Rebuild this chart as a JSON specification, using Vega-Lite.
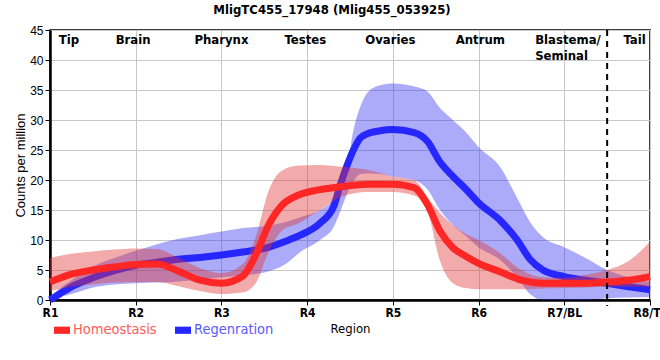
{
  "$schema": "https://vega.github.io/schema/vega-lite/v6.json",
  "width": 600,
  "height": 270,
  "autosize": {"type": "none"},
  "padding": {"left": 50, "top": 30, "right": 10, "bottom": 60},
  "background": "white",
  "title": {
    "text": "MligTC455_17948 (Mlig455_053925)",
    "font": "DejaVu Sans Condensed, Liberation Sans",
    "fontSize": 13,
    "fontWeight": "bold",
    "color": "black",
    "anchor": "middle",
    "dx": -18,
    "offset": 7
  },
  "config": {
    "view": {"stroke": "black", "strokeWidth": 1.5},
    "axis": {
      "gridColor": "#c8c8c8",
      "gridWidth": 1,
      "domainColor": "black",
      "domainWidth": 2.5,
      "tickColor": "black",
      "labelColor": "black",
      "titleColor": "black",
      "labelOverlap": false
    }
  },
  "datasets": {
    "curves": [
      {"series": "Homeostasis", "x": 1.0, "y": 3.0, "lo": 1.5, "hi": 7.0},
      {"series": "Homeostasis", "x": 1.25, "y": 4.3, "lo": 2.2, "hi": 7.7},
      {"series": "Homeostasis", "x": 1.5, "y": 5.0, "lo": 2.6, "hi": 8.1},
      {"series": "Homeostasis", "x": 1.75, "y": 5.5, "lo": 2.9, "hi": 8.4},
      {"series": "Homeostasis", "x": 2.0, "y": 5.9, "lo": 3.0, "hi": 8.6},
      {"series": "Homeostasis", "x": 2.25, "y": 6.0, "lo": 3.0, "hi": 8.5},
      {"series": "Homeostasis", "x": 2.5, "y": 4.8, "lo": 2.3, "hi": 7.0},
      {"series": "Homeostasis", "x": 2.75, "y": 3.3, "lo": 1.5, "hi": 5.3},
      {"series": "Homeostasis", "x": 3.0, "y": 2.8, "lo": 1.0, "hi": 4.5},
      {"series": "Homeostasis", "x": 3.25, "y": 4.0, "lo": 1.3, "hi": 6.0},
      {"series": "Homeostasis", "x": 3.4, "y": 7.5, "lo": 2.8, "hi": 10.5},
      {"series": "Homeostasis", "x": 3.55, "y": 12.5, "lo": 8.0, "hi": 18.2},
      {"series": "Homeostasis", "x": 3.7, "y": 15.7, "lo": 11.5, "hi": 21.5},
      {"series": "Homeostasis", "x": 3.9, "y": 17.5, "lo": 12.8, "hi": 22.4},
      {"series": "Homeostasis", "x": 4.15, "y": 18.4, "lo": 15.0, "hi": 22.5},
      {"series": "Homeostasis", "x": 4.4, "y": 18.9, "lo": 17.2, "hi": 22.2},
      {"series": "Homeostasis", "x": 4.7, "y": 19.3, "lo": 18.0, "hi": 21.7},
      {"series": "Homeostasis", "x": 5.0, "y": 19.3, "lo": 18.0, "hi": 20.6},
      {"series": "Homeostasis", "x": 5.25, "y": 18.7, "lo": 17.4, "hi": 20.0},
      {"series": "Homeostasis", "x": 5.4, "y": 16.0, "lo": 15.0, "hi": 17.2},
      {"series": "Homeostasis", "x": 5.55, "y": 11.5, "lo": 6.5, "hi": 14.5},
      {"series": "Homeostasis", "x": 5.7, "y": 8.7, "lo": 2.8, "hi": 12.5},
      {"series": "Homeostasis", "x": 5.85, "y": 7.3, "lo": 2.0, "hi": 11.0},
      {"series": "Homeostasis", "x": 6.0, "y": 6.1, "lo": 1.8, "hi": 10.0},
      {"series": "Homeostasis", "x": 6.25, "y": 4.7, "lo": 1.8, "hi": 7.8},
      {"series": "Homeostasis", "x": 6.5, "y": 3.3, "lo": 1.8, "hi": 5.0},
      {"series": "Homeostasis", "x": 6.75, "y": 2.8, "lo": 1.9, "hi": 3.8},
      {"series": "Homeostasis", "x": 7.0, "y": 2.8, "lo": 2.0, "hi": 3.7},
      {"series": "Homeostasis", "x": 7.25, "y": 2.8, "lo": 2.1, "hi": 4.2},
      {"series": "Homeostasis", "x": 7.5, "y": 3.0, "lo": 2.2, "hi": 5.0},
      {"series": "Homeostasis", "x": 7.75, "y": 3.3, "lo": 2.2, "hi": 6.5},
      {"series": "Homeostasis", "x": 8.0, "y": 3.9, "lo": 2.2, "hi": 9.7},
      {"series": "Regenration", "x": 1.0, "y": 0.0, "lo": 0.0, "hi": 0.5},
      {"series": "Regenration", "x": 1.12, "y": 1.1, "lo": 0.5, "hi": 2.0},
      {"series": "Regenration", "x": 1.25, "y": 2.2, "lo": 1.0, "hi": 3.3},
      {"series": "Regenration", "x": 1.5, "y": 3.7, "lo": 2.1, "hi": 5.6},
      {"series": "Regenration", "x": 1.75, "y": 4.9, "lo": 2.6, "hi": 7.0},
      {"series": "Regenration", "x": 2.0, "y": 5.8, "lo": 2.8, "hi": 8.2},
      {"series": "Regenration", "x": 2.25, "y": 6.3, "lo": 2.9, "hi": 9.3},
      {"series": "Regenration", "x": 2.5, "y": 6.8, "lo": 3.1, "hi": 10.2},
      {"series": "Regenration", "x": 2.75, "y": 7.1, "lo": 3.4, "hi": 10.8},
      {"series": "Regenration", "x": 3.0, "y": 7.5, "lo": 3.8, "hi": 11.4},
      {"series": "Regenration", "x": 3.25, "y": 8.0, "lo": 4.1, "hi": 12.0},
      {"series": "Regenration", "x": 3.5, "y": 8.6, "lo": 4.6, "hi": 12.3},
      {"series": "Regenration", "x": 3.75, "y": 9.8, "lo": 6.0, "hi": 13.0},
      {"series": "Regenration", "x": 3.92, "y": 10.8, "lo": 8.0, "hi": 13.8},
      {"series": "Regenration", "x": 4.15, "y": 12.8, "lo": 10.0, "hi": 15.0},
      {"series": "Regenration", "x": 4.31, "y": 15.6, "lo": 12.2, "hi": 17.0},
      {"series": "Regenration", "x": 4.38, "y": 18.9, "lo": 14.5, "hi": 19.4},
      {"series": "Regenration", "x": 4.46, "y": 22.2, "lo": 17.5, "hi": 21.7},
      {"series": "Regenration", "x": 4.54, "y": 25.0, "lo": 19.8, "hi": 28.3},
      {"series": "Regenration", "x": 4.62, "y": 27.0, "lo": 21.0, "hi": 32.2},
      {"series": "Regenration", "x": 4.7, "y": 27.7, "lo": 21.1, "hi": 34.5},
      {"series": "Regenration", "x": 4.85, "y": 28.2, "lo": 21.0, "hi": 35.8},
      {"series": "Regenration", "x": 5.0, "y": 28.4, "lo": 20.6, "hi": 36.1},
      {"series": "Regenration", "x": 5.25, "y": 27.9, "lo": 20.0, "hi": 35.6},
      {"series": "Regenration", "x": 5.4, "y": 26.5, "lo": 18.5, "hi": 34.8},
      {"series": "Regenration", "x": 5.55, "y": 23.0, "lo": 15.0, "hi": 32.0},
      {"series": "Regenration", "x": 5.7, "y": 20.6, "lo": 12.5, "hi": 30.0},
      {"series": "Regenration", "x": 5.85, "y": 18.5, "lo": 10.7, "hi": 28.0},
      {"series": "Regenration", "x": 6.0, "y": 16.2, "lo": 8.8, "hi": 25.5},
      {"series": "Regenration", "x": 6.25, "y": 13.3, "lo": 6.7, "hi": 22.2},
      {"series": "Regenration", "x": 6.45, "y": 10.0, "lo": 3.8, "hi": 17.0},
      {"series": "Regenration", "x": 6.6, "y": 6.8, "lo": 1.0, "hi": 13.0},
      {"series": "Regenration", "x": 6.75, "y": 5.0, "lo": 0.0, "hi": 10.5},
      {"series": "Regenration", "x": 7.0, "y": 3.9, "lo": 0.0, "hi": 8.8},
      {"series": "Regenration", "x": 7.25, "y": 3.3, "lo": 0.0, "hi": 7.0},
      {"series": "Regenration", "x": 7.5, "y": 2.8, "lo": 0.3, "hi": 5.0},
      {"series": "Regenration", "x": 7.75, "y": 2.2, "lo": 0.4, "hi": 3.8},
      {"series": "Regenration", "x": 8.0, "y": 1.7, "lo": 0.5, "hi": 3.0}
    ],
    "regions": [
      {"label": "Tip", "x": 1.22, "y": 43.3},
      {"label": "Brain", "x": 1.97, "y": 43.3},
      {"label": "Pharynx", "x": 3.0, "y": 43.3},
      {"label": "Testes", "x": 3.98, "y": 43.3},
      {"label": "Ovaries", "x": 4.97, "y": 43.3},
      {"label": "Antrum", "x": 6.02, "y": 43.3},
      {"label": "Tail", "x": 7.82, "y": 43.3}
    ],
    "regionsLeft": [
      {"label": "Blastema/", "x": 6.66, "y": 43.3},
      {"label": "Seminal", "x": 6.66, "y": 40.7}
    ],
    "divider": [{"x": 7.5, "top": 45, "bottom": -1}]
  },
  "layer": [
    {
      "data": {"name": "curves"},
      "transform": [{"filter": "datum.series === 'Regenration'"}],
      "mark": {"type": "area", "interpolate": "monotone", "color": "#2e2ef0", "opacity": 0.4},
      "encoding": {
        "x": {"field": "x", "type": "quantitative", "scale": {"domain": [1, 8], "nice": false, "zero": false},
          "axis": {"values": [1, 2, 3, 4, 5, 6, 7, 8], "labelExpr": "['R1','R2','R3','R4','R5','R6','R7/BL','R8/TL'][datum.value - 1]", "labelFont": "DejaVu Sans Condensed, Liberation Sans", "labelFontWeight": "bold", "labelFontSize": 12, "labelPadding": 2, "labelOverlap": false, "labelFlush": false, "tickSize": 5, "title": "Region", "titleFont": "DejaVu Sans Condensed, Liberation Sans", "titleFontWeight": "normal", "titleFontSize": 13, "titlePadding": 4}
        },
        "y": {"field": "lo", "type": "quantitative", "scale": {"domain": [0, 45], "nice": false},
          "axis": {"values": [0, 5, 10, 15, 20, 25, 30, 35, 40, 45], "labelOverlap": false, "labelFlush": false, "labelFont": "Arial, Liberation Sans", "labelFontSize": 12, "labelPadding": 2, "tickSize": 5, "title": "Counts per million", "titleFont": "Arial, Liberation Sans", "titleFontWeight": "normal", "titleFontSize": 13, "titlePadding": 2}
        },
        "y2": {"field": "hi"}
      }
    },
    {
      "data": {"name": "curves"},
      "transform": [{"filter": "datum.series === 'Regenration'"}],
      "mark": {"type": "line", "interpolate": "monotone", "strokeWidth": 7},
      "encoding": {
        "x": {"field": "x", "type": "quantitative",
          "axis": {"values": [1, 2, 3, 4, 5, 6, 7, 8], "labelExpr": "['R1','R2','R3','R4','R5','R6','R7/BL','R8/TL'][datum.value - 1]", "labelFont": "DejaVu Sans Condensed, Liberation Sans", "labelFontWeight": "bold", "labelFontSize": 12, "labelPadding": 2, "labelOverlap": false, "labelFlush": false, "tickSize": 5, "title": "Region", "titleFont": "DejaVu Sans Condensed, Liberation Sans", "titleFontWeight": "normal", "titleFontSize": 13, "titlePadding": 4}
        },
        "y": {"field": "y", "type": "quantitative",
          "axis": {"values": [0, 5, 10, 15, 20, 25, 30, 35, 40, 45], "labelOverlap": false, "labelFlush": false, "labelFont": "Arial, Liberation Sans", "labelFontSize": 12, "labelPadding": 2, "tickSize": 5, "title": "Counts per million", "titleFont": "Arial, Liberation Sans", "titleFontWeight": "normal", "titleFontSize": 13, "titlePadding": 2}
        },
        "color": {"field": "series", "type": "nominal",
          "scale": {"domain": ["Homeostasis", "Regenration"], "range": ["#ff2626", "#2626ff"]},
          "legend": {
            "orient": "none",
            "legendX": 4,
            "legendY": 292,
            "direction": "horizontal",
            "title": null,
            "labelFont": "DejaVu Sans Condensed, Liberation Sans",
            "labelFontSize": 14.5,
            "labelOffset": 3,
            "columnPadding": 18,
            "symbolType": "M-1,-0.45H1V0.45H-1Z",
            "symbolSize": 256,
            "symbolStrokeWidth": 0,
            "encode": {
              "symbols": {"update": {"fill": {"signal": "datum.label === 'Homeostasis' ? '#ff2626' : '#2626ff'"}, "opacity": {"value": 1}, "strokeWidth": {"value": 0}}},
              "labels": {"update": {"fill": {"signal": "datum.label === 'Homeostasis' ? '#ff5a5a' : '#5a5aff'"}}}
            }
          }
        }
      }
    },
    {
      "data": {"name": "curves"},
      "transform": [{"filter": "datum.series === 'Homeostasis'"}],
      "mark": {"type": "area", "interpolate": "monotone", "color": "#e03535", "opacity": 0.42},
      "encoding": {
        "x": {"field": "x", "type": "quantitative",
          "axis": {"values": [1, 2, 3, 4, 5, 6, 7, 8], "labelExpr": "['R1','R2','R3','R4','R5','R6','R7/BL','R8/TL'][datum.value - 1]", "labelFont": "DejaVu Sans Condensed, Liberation Sans", "labelFontWeight": "bold", "labelFontSize": 12, "labelPadding": 2, "labelOverlap": false, "labelFlush": false, "tickSize": 5, "title": "Region", "titleFont": "DejaVu Sans Condensed, Liberation Sans", "titleFontWeight": "normal", "titleFontSize": 13, "titlePadding": 4}
        },
        "y": {"field": "lo", "type": "quantitative",
          "axis": {"values": [0, 5, 10, 15, 20, 25, 30, 35, 40, 45], "labelOverlap": false, "labelFlush": false, "labelFont": "Arial, Liberation Sans", "labelFontSize": 12, "labelPadding": 2, "tickSize": 5, "title": "Counts per million", "titleFont": "Arial, Liberation Sans", "titleFontWeight": "normal", "titleFontSize": 13, "titlePadding": 2}
        },
        "y2": {"field": "hi"}
      }
    },
    {
      "data": {"name": "curves"},
      "transform": [{"filter": "datum.series === 'Homeostasis'"}],
      "mark": {"type": "line", "interpolate": "monotone", "strokeWidth": 7},
      "encoding": {
        "x": {"field": "x", "type": "quantitative",
          "axis": {"values": [1, 2, 3, 4, 5, 6, 7, 8], "labelExpr": "['R1','R2','R3','R4','R5','R6','R7/BL','R8/TL'][datum.value - 1]", "labelFont": "DejaVu Sans Condensed, Liberation Sans", "labelFontWeight": "bold", "labelFontSize": 12, "labelPadding": 2, "labelOverlap": false, "labelFlush": false, "tickSize": 5, "title": "Region", "titleFont": "DejaVu Sans Condensed, Liberation Sans", "titleFontWeight": "normal", "titleFontSize": 13, "titlePadding": 4}
        },
        "y": {"field": "y", "type": "quantitative",
          "axis": {"values": [0, 5, 10, 15, 20, 25, 30, 35, 40, 45], "labelOverlap": false, "labelFlush": false, "labelFont": "Arial, Liberation Sans", "labelFontSize": 12, "labelPadding": 2, "tickSize": 5, "title": "Counts per million", "titleFont": "Arial, Liberation Sans", "titleFontWeight": "normal", "titleFontSize": 13, "titlePadding": 2}
        },
        "color": {"field": "series", "type": "nominal"}
      }
    },
    {
      "data": {"name": "divider"},
      "mark": {"type": "rule", "color": "black", "strokeWidth": 2, "strokeDash": [6, 5]},
      "encoding": {
        "x": {"field": "x", "type": "quantitative",
          "axis": {"values": [1, 2, 3, 4, 5, 6, 7, 8], "labelExpr": "['R1','R2','R3','R4','R5','R6','R7/BL','R8/TL'][datum.value - 1]", "labelFont": "DejaVu Sans Condensed, Liberation Sans", "labelFontWeight": "bold", "labelFontSize": 12, "labelPadding": 2, "labelOverlap": false, "labelFlush": false, "tickSize": 5, "title": "Region", "titleFont": "DejaVu Sans Condensed, Liberation Sans", "titleFontWeight": "normal", "titleFontSize": 13, "titlePadding": 4}
        },
        "y": {"field": "top", "type": "quantitative",
          "axis": {"values": [0, 5, 10, 15, 20, 25, 30, 35, 40, 45], "labelOverlap": false, "labelFlush": false, "labelFont": "Arial, Liberation Sans", "labelFontSize": 12, "labelPadding": 2, "tickSize": 5, "title": "Counts per million", "titleFont": "Arial, Liberation Sans", "titleFontWeight": "normal", "titleFontSize": 13, "titlePadding": 2}
        },
        "y2": {"field": "bottom"}
      }
    },
    {
      "data": {"name": "regions"},
      "mark": {"type": "text", "font": "DejaVu Sans Condensed, Liberation Sans", "fontWeight": "bold", "fontSize": 13, "color": "black", "baseline": "middle", "align": "center"},
      "encoding": {
        "x": {"field": "x", "type": "quantitative",
          "axis": {"values": [1, 2, 3, 4, 5, 6, 7, 8], "labelExpr": "['R1','R2','R3','R4','R5','R6','R7/BL','R8/TL'][datum.value - 1]", "labelFont": "DejaVu Sans Condensed, Liberation Sans", "labelFontWeight": "bold", "labelFontSize": 12, "labelPadding": 2, "labelOverlap": false, "labelFlush": false, "tickSize": 5, "title": "Region", "titleFont": "DejaVu Sans Condensed, Liberation Sans", "titleFontWeight": "normal", "titleFontSize": 13, "titlePadding": 4}
        },
        "y": {"field": "y", "type": "quantitative",
          "axis": {"values": [0, 5, 10, 15, 20, 25, 30, 35, 40, 45], "labelOverlap": false, "labelFlush": false, "labelFont": "Arial, Liberation Sans", "labelFontSize": 12, "labelPadding": 2, "tickSize": 5, "title": "Counts per million", "titleFont": "Arial, Liberation Sans", "titleFontWeight": "normal", "titleFontSize": 13, "titlePadding": 2}
        },
        "text": {"field": "label"}
      }
    },
    {
      "data": {"name": "regionsLeft"},
      "mark": {"type": "text", "font": "DejaVu Sans Condensed, Liberation Sans", "fontWeight": "bold", "fontSize": 13, "color": "black", "baseline": "middle", "align": "left"},
      "encoding": {
        "x": {"field": "x", "type": "quantitative",
          "axis": {"values": [1, 2, 3, 4, 5, 6, 7, 8], "labelExpr": "['R1','R2','R3','R4','R5','R6','R7/BL','R8/TL'][datum.value - 1]", "labelFont": "DejaVu Sans Condensed, Liberation Sans", "labelFontWeight": "bold", "labelFontSize": 12, "labelPadding": 2, "labelOverlap": false, "labelFlush": false, "tickSize": 5, "title": "Region", "titleFont": "DejaVu Sans Condensed, Liberation Sans", "titleFontWeight": "normal", "titleFontSize": 13, "titlePadding": 4}
        },
        "y": {"field": "y", "type": "quantitative",
          "axis": {"values": [0, 5, 10, 15, 20, 25, 30, 35, 40, 45], "labelOverlap": false, "labelFlush": false, "labelFont": "Arial, Liberation Sans", "labelFontSize": 12, "labelPadding": 2, "tickSize": 5, "title": "Counts per million", "titleFont": "Arial, Liberation Sans", "titleFontWeight": "normal", "titleFontSize": 13, "titlePadding": 2}
        },
        "text": {"field": "label"}
      }
    }
  ]
}
